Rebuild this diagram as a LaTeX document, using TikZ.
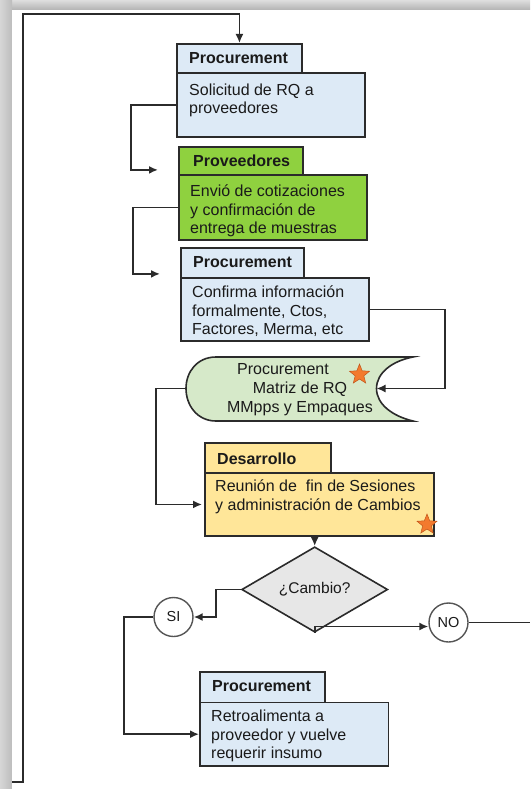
\documentclass[tikz,border=0pt]{standalone}
\usepackage{fontspec}
\setmainfont{Liberation Sans}
\usetikzlibrary{arrows.meta,shapes.geometric,calc}

\definecolor{procfill}{HTML}{DDEAF6}
\definecolor{provfill}{HTML}{8FD13F}
\definecolor{matfill}{HTML}{D6E9C9}
\definecolor{devfill}{HTML}{FFE699}
\definecolor{decfill}{HTML}{E7E7E7}
\definecolor{ink}{HTML}{2B2B2B}
\definecolor{txt}{HTML}{1A1A1A}
\definecolor{ringline}{HTML}{555555}
\definecolor{starfill}{HTML}{F37A2E}
\definecolor{starline}{HTML}{C0551A}

% fixed height for the first line of a text block: its baseline sits 13pt below the node top
\newcommand{\lnstrut}{\rule{0pt}{13pt}}

\tikzset{
  box/.style={draw=ink, line width=1.9pt, inner sep=0pt, anchor=north west},
  bodytext/.style={inner sep=0pt, anchor=north west, align=left, text=txt,
    font=\fontsize{16}{18.5}\selectfont},
  headtext/.style={bodytext, font=\bfseries\fontsize{16}{18.5}\selectfont},
  conn/.style={draw=ink, line width=1.7pt},
  arr/.style={conn, -{Latex[length=9pt,width=8pt]}},
  ring/.style={circle, draw=ringline, line width=1.4pt, fill=white,
    minimum size=39pt, inner sep=0pt, text=txt, font=\fontsize{14.5}{16}\selectfont},
  starmark/.style={star, star points=5, star point ratio=2.3, fill=starfill,
    draw=starline, line width=0.5pt, minimum size=21pt, inner sep=0pt}
}

\begin{document}
\begin{tikzpicture}[x=1pt,y=-1pt]
\useasboundingbox (0,0) rectangle (530,789);

% page with its drop shadow
\shade[top color=black!13, bottom color=black!30] (0,0) rectangle (530,10);
\shade[left color=black!16, right color=black!26] (0,0) rectangle (12,789);
\fill[white] (12,10) rectangle (530,789);

% step 1: Procurement
\node[box, fill=procfill, minimum width=125pt, minimum height=29pt] (h1) at (176,43) {};
\node[box, fill=procfill, minimum width=188pt, minimum height=64pt] (b1) at (176,72) {};
\node[headtext] (h1t) at (189,50) {\lnstrut Procurement};
\node[bodytext] (b1t) at (189,82) {\lnstrut Solicitud de RQ a\\proveedores};

% step 2: Proveedores
\node[box, fill=provfill, minimum width=124pt, minimum height=28pt] (h2) at (178,146) {};
\node[box, fill=provfill, minimum width=188pt, minimum height=65pt] (b2) at (178,174) {};
\node[headtext] (h2t) at (193,153.5) {\lnstrut Proveedores};
\node[bodytext] (b2t) at (190,183.5) {\lnstrut Envió de cotizaciones\\y confirmación de\\entrega de muestras};

% step 3: Procurement
\node[box, fill=procfill, minimum width=123pt, minimum height=30pt] (h3) at (180,247) {};
\node[box, fill=procfill, minimum width=188pt, minimum height=63pt] (b3) at (180,277) {};
\node[headtext] (h3t) at (193,254.5) {\lnstrut Procurement};
\node[bodytext] (b3t) at (192,284.5) {\lnstrut Confirma información\\formalmente, Ctos,\\Factores, Merma, etc};

% stored data: Matriz de RQ
\coordinate (mL) at (186,388.5);
\coordinate (mR) at (376.5,388.5);
\filldraw[fill=matfill, draw=ink, line width=1.6pt]
  (413,357) -- (216,357)
  .. controls (197,357) and (186,372) .. (mL)
  .. controls (186,405) and (197,421) .. (216,421)
  -- (413,421)
  .. controls (392,416) and (376.5,404) .. (mR)
  .. controls (376.5,373) and (392,361) .. (413,357) -- cycle;
\node[inner sep=0pt, align=center, anchor=north, text=txt,
  font=\fontsize{16}{19.3}\selectfont] (mt) at (300,361)
  {\lnstrut Procurement\hspace*{34pt}\\Matriz de RQ\\MMpps y Empaques};
\node[starmark] (s1) at (359.5,374.5) {};

% step 4: Desarrollo
\node[box, fill=devfill, minimum width=126pt, minimum height=30pt] (h4) at (204,442) {};
\node[box, fill=devfill, minimum width=229pt, minimum height=63pt] (b4) at (204,472) {};
\node[headtext] (h4t) at (217,451) {\lnstrut Desarrollo};
\node[bodytext] (b4t) at (215,478.5) {\lnstrut Reunión de\ \ fin de Sesiones\\y administración de Cambios};
\node[starmark] (s2) at (427,524.5) {};

% decision
\node[diamond, draw=ink, line width=1.6pt, fill=decfill, minimum width=146pt,
  minimum height=59pt, inner sep=0pt, text=txt, font=\fontsize{15.5}{17}\selectfont]
  (dia) at (314.7,589.5) {¿Cambio?};
\node[ring] (si) at (173.5,617) {SI};
\node[ring] (no) at (448.5,622.5) {NO};
\coordinate (noout) at (530,622.5);

% step 5: Procurement
\node[box, fill=procfill, minimum width=125pt, minimum height=31pt] (h5) at (199,671) {};
\node[box, fill=procfill, minimum width=188.5pt, minimum height=63.5pt] (b5) at (199,701.5) {};
\node[headtext] (h5t) at (212,678.5) {\lnstrut Procurement};
\node[bodytext] (b5t) at (211,708.5) {\lnstrut Retroalimenta a\\proveedor y vuelve\\requerir insumo};

% connectors
\coordinate (loopin) at (12,782);
\draw[arr] (loopin) -- (23,782) -- (23,14) -| (h1.north);
\draw[arr, shorten >=20pt] (b1.west) -- ++(-45,0) |- ([yshift=6pt]h2.south west);
\draw[arr, shorten >=20pt] (b2.west) -- ++(-45,0) |- ([yshift=5pt]h3.south west);
\draw[arr] (b3.east) -- ++(75,0) |- (mR);
\draw[arr, shorten >=2pt] (mL) -- ++(-30,0) |- (b4.west);
\draw[arr] (dia.north |- b4.south) -- (dia.north);
\draw[arr] (dia.west) -- ++(-25,0) |- (si.east);
\draw[arr] (dia.south) |- ([yshift=-4pt]no.west);
\draw[conn] (no.east) -- (noout);
\draw[arr] (si.west) -- ++(-29,0) |- (b5.west);
\end{tikzpicture}
\end{document}
